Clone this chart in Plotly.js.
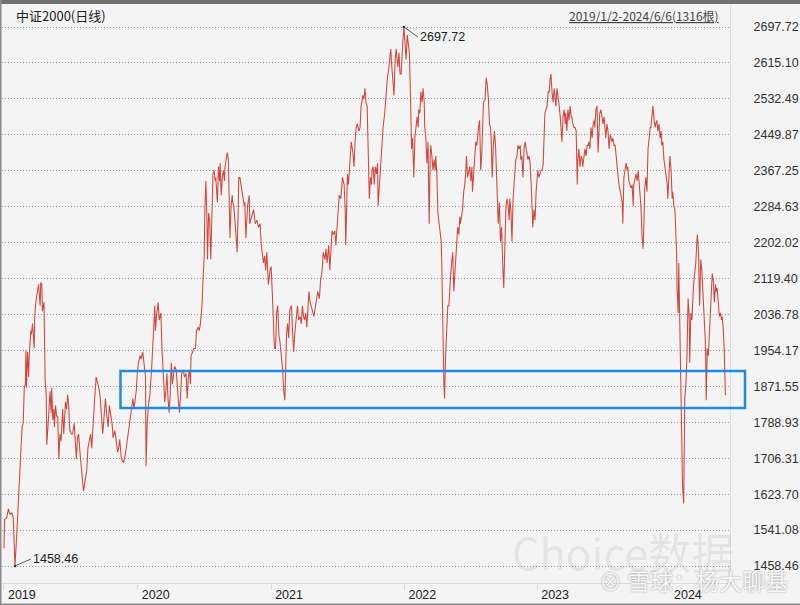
<!DOCTYPE html>
<html><head><meta charset="utf-8">
<script src="https://cdn.plot.ly/plotly-3.0.1.min.js"></script>
<style>html,body{margin:0;padding:0;background:#f4f4f4;}#chart{width:800px;height:605px;}</style>
</head><body><div id="chart"></div>
<script>
// trading-day index (0 = 2019/1/2, 1315 = 2024/6/6) and close values
const tradeDay = [0,1,5,8,11,14,17,18,20,23,26,28,30,33,35,37,39,40,41,43,45,46,49,50,52,55,56,58,61,63,66,67,69,70,73,75,77,78,81,84,86,87,89,91,92,94,96,98,100,102,104,107,109,112,114,116,118,120,123,125,128,130,132,134,136,139,141,143,145,148,151,153,156,158,160,163,165,168,170,173,175,177,180,182,185,187,190,192,194,197,199,202,204,207,209,211,214,218,221,225,228,232,235,237,239,241,243,245,248,250,253,255,258,259,261,264,266,269,271,273,275,276,278,281,283,286,288,290,293,295,297,299,301,303,305,307,309,311,314,316,318,320,322,324,327,329,332,334,336,338,340,341,344,346,349,351,354,356,358,361,363,365,366,368,370,371,373,375,377,379,381,383,385,386,389,391,393,394,396,398,400,402,403,405,407,409,411,412,414,416,417,419,421,423,425,427,428,
430,433,438,439,441,444,447,448,451,455,458,461,464,467,469,471,473,475,477,479,481,482,485,487,489,491,493,495,497,499,501,503,506,508,510,512,513,515,517,519,521,524,526,528,530,532,533,535,537,540,542,544,546,548,550,552,554,556,558,560,563,565,568,570,572,575,577,580,582,585,587,589,592,594,596,598,600,603,605,607,609,611,614,616,617,620,622,623,625,626,628,631,633,636,638,640,642,644,647,649,651,654,656,658,660,662,663,665,666,668,670,671,673,675,677,679,681,682,684,685,687,689,691,694,696,699,701,704,705,707,709,711,713,715,716,718,720,722,724,725,727,729,731,733,735,737,739,741,743,745,746,747,749,751,753,755,756,758,760,762,764,766,767,769,771,773,775,777,778,780,782,784,786,787,789,791,793,795,797,798,800,801,802,803,805,807,809,811,812,814,816,818,820,822,823,825,827,829,831,832,834,836,838,840,842,843,845,847,849,851,853,854,856,858,860,862,863,865,867,869,871,873,874,877,
879,881,883,885,887,888,890,892,894,896,897,899,901,903,905,907,908,910,911,913,915,917,919,921,922,924,926,928,930,932,933,935,937,939,941,942,944,946,948,950,952,953,955,957,959,961,963,964,966,968,970,972,973,975,977,979,981,983,984,986,988,990,992,994,995,997,999,1001,1003,1004,1006,1008,1010,1012,1014,1015,1017,1019,1021,1023,1024,1026,1028,1030,1032,1034,1035,1037,1039,1041,1043,1045,1046,1048,1050,1052,1054,1055,1057,1059,1061,1063,1065,1066,1068,1070,1072,1074,1076,1077,1079,1081,1083,1085,1086,1088,1090,1092,1094,1096,1097,1099,1101,1103,1105,1107,1108,1110,1112,1114,1116,1117,1119,1121,1123,1125,1127,1128,1130,1132,1134,1136,1137,1139,1141,1143,1145,1147,1148,1150,1152,1154,1156,1158,1159,1161,1163,1165,1167,1168,1170,1172,1174,1176,1178,1179,1181,1183,1185,1187,1188,1190,1192,1194,1196,1198,1199,1201,1203,1205,1207,1209,1210,1212,1214,1216,1218,1219,1221,1223,1225,1226,1227,1229,1230,1232,1233,1235,1236,1237,1239,1240,1241,1243,1245,1247,1249,1250,1252,1254,1255,1257,1259,1261,1263,1264,1266,1268,1270,1272,1274,1275,1277,1279,1280,1282,1284,1286,1288,1289,1291,1293,1295,1297,1298,1300,1302,1304,1306,1308,1309,1311,1313,1315];
const closeValue = [1499.5,1565.0,1569.2,1589.7,1577.4,1581.5,1569.2,1532.3,1458.46,1524.1,1597.9,1655.2,1671.6,1778.2,1786.4,1868.3,1876.5,1954.2,1868.3,1950.3,1892.9,1942.1,1999.4,1991.2,2015.8,1958.5,2032.2,2065.0,2089.6,2106.0,2056.8,2110.1,2106.0,2044.5,2065.0,1884.7,1851.9,1737.2,1794.5,1860.1,1810.9,1868.3,1794.5,1819.1,1778.2,1827.3,1802.7,1802.7,1704.4,1761.8,1745.4,1819.1,1761.8,1835.5,1819.1,1851.9,1827.3,1770.0,1761.8,1761.8,1786.4,1753.6,1704.4,1753.6,1761.8,1712.6,1679.8,1647.0,1630.6,1655.2,1679.8,1729.0,1753.6,1761.8,1729.0,1810.9,1835.5,1892.9,1884.7,1868.3,1851.9,1810.9,1761.8,1794.5,1843.7,1810.9,1778.2,1827.3,1810.9,1786.4,1753.6,1770.0,1753.6,1720.8,1729.0,1749.5,1704.4,1696.2,1712.6,1753.6,1778.2,1819.1,1843.7,1819.1,1835.5,1860.1,1901.1,1925.7,1942.1,1933.9,1950.3,1925.7,1892.9,1688.0,1786.4,1835.5,1851.9,1909.3,1974.8,2007.6,2056.8,1999.4,2032.2,2065.0,2024.0,2040.4,1958.5,1892.9,1835.5,1860.1,1901.1,1843.7,1810.9,1851.9,1925.7,1876.5,1892.9,1917.5,1909.3,1860.1,1835.5,1810.9,1868.3,1901.1,1909.3,1892.9,1901.1,1843.7,1892.9,1909.3,1876.5,1942.1,1950.3,1958.5,1958.5,1999.4,2007.6,1999.4,2015.8,2056.8,2122.4,2171.6,2269.9,2343.7,2253.5,2163.4,2269.9,2253.5,2163.4,2245.3,2360.1,2368.3,2343.7,2351.9,2294.5,2376.5,2343.7,2384.7,2310.9,2351.9,2368.3,2343.7,2376.5,2392.9,2409.2,2392.9,2294.5,2212.5,2286.3,2310.9,2294.5,2286.3,2253.5,2204.3,2179.8,2278.1,2351.9,
2351.9,2327.3,2286.3,2294.5,2212.5,2286.3,2310.9,2245.3,2261.7,2278.1,2245.3,2253.5,2237.1,2245.3,2196.1,2179.8,2155.2,2171.6,2138.8,2179.8,2130.6,2106.0,2138.8,2147.0,2089.6,2032.2,1958.5,1958.5,2040.4,2056.8,1991.2,1974.8,1933.9,1909.3,1860.1,1839.6,1884.7,1991.2,2015.8,1983.0,2048.6,2056.8,1999.4,1950.3,1991.2,2015.8,2032.2,2056.8,2024.0,2032.2,2015.8,2056.8,2032.2,2024.0,2040.4,2007.6,2048.6,2089.6,2065.0,2056.8,2040.4,2032.2,2056.8,2073.2,2089.6,2073.2,2114.2,2138.8,2179.8,2163.4,2187.9,2155.2,2196.1,2138.8,2204.3,2228.9,2220.7,2228.9,2196.1,2245.3,2269.9,2310.9,2302.7,2335.5,2351.9,2335.5,2278.1,2196.1,2319.1,2360.1,2335.5,2401.0,2433.8,2409.2,2376.5,2433.8,2466.6,2474.8,2458.4,2466.6,2515.8,2540.4,2532.2,2556.8,2524.0,2515.8,2442.0,2384.7,2302.7,2351.9,2335.5,2368.3,2376.5,2335.5,2376.5,2360.1,2384.7,2286.3,2327.3,2360.1,2384.7,2442.0,2466.6,2499.4,2540.4,2581.4,2597.7,2630.5,2646.9,2605.9,2581.4,2540.4,2622.3,2646.9,2630.5,2605.9,2638.7,2589.6,2589.6,2630.5,2663.3,2697.72,2646.9,2622.3,2679.7,2663.3,2638.7,2540.4,2417.4,2442.0,2392.9,2351.9,2442.0,2466.6,2491.2,2466.6,2507.6,2499.4,2548.6,2524.0,2556.8,2524.0,2466.6,2442.0,2384.7,2433.8,2245.3,2401.0,2425.6,2401.0,2368.3,2392.9,2368.3,2401.0,2360.1,2269.9,2245.3,2228.9,2204.3,2155.2,2056.8,1942.1,1876.5,1843.7,1942.1,1991.2,2056.8,2056.8,2089.6,2122.4,2155.2,2179.8,2089.6,2138.8,2147.0,2187.9,2237.1,2220.7,2261.7,2245.3,2261.7,2278.1,2319.1,2335.5,2368.3,2401.0,2351.9,2368.3,2376.5,2343.7,2376.5,2319.1,2360.1,2401.0,2433.8,2425.6,2450.2,2466.6,2483.0,2368.3,2409.2,2483.0,2524.0,2532.2,
2581.4,2565.0,2532.2,2474.8,2466.6,2442.0,2351.9,2425.6,2458.4,2425.6,2384.7,2286.3,2245.3,2294.5,2204.3,2237.1,2179.8,2122.4,2097.8,2204.3,2286.3,2302.7,2286.3,2253.5,2302.7,2278.1,2204.3,2302.7,2351.9,2384.7,2392.9,2401.0,2425.6,2417.4,2425.6,2392.9,2401.0,2351.9,2417.4,2433.8,2417.4,2409.2,2392.9,2401.0,2384.7,2335.5,2286.3,2237.1,2278.1,2253.5,2319.1,2351.9,2368.3,2351.9,2360.1,2368.3,2368.3,2384.7,2425.6,2499.4,2507.6,2515.8,2548.6,2548.6,2573.2,2589.6,2548.6,2524.0,2556.8,2540.4,2515.8,2556.8,2540.4,2515.8,2491.2,2466.6,2433.8,2491.2,2507.6,2474.8,2499.4,2458.4,2507.6,2483.0,2515.8,2491.2,2491.2,2474.8,2466.6,2466.6,2458.4,2335.5,2392.9,2417.4,2376.5,2401.0,2392.9,2376.5,2401.0,2417.4,2401.0,2425.6,2425.6,2433.8,2417.4,2466.6,2442.0,2474.8,2483.0,2466.6,2507.6,2515.8,2409.2,2466.6,2499.4,2507.6,2491.2,2474.8,2491.2,2466.6,2442.0,2474.8,2458.4,2417.4,2450.2,2442.0,2433.8,2442.0,2425.6,2425.6,2392.9,2384.7,2360.1,2335.5,2319.1,2310.9,2294.5,2245.3,2351.9,2368.3,2384.7,2368.3,2376.5,2343.7,2335.5,2327.3,2335.5,2286.3,2335.5,2351.9,2360.1,2343.7,2368.3,2335.5,2319.1,2286.3,2220.7,2187.9,2269.9,2327.3,2351.9,2319.1,2417.4,2450.2,2466.6,2466.6,2499.4,2515.8,2483.0,2466.6,2474.8,2483.0,2458.4,2474.8,2442.0,2458.4,2425.6,2433.8,2392.9,2376.5,2360.1,2335.5,2302.7,2351.9,2401.0,2368.3,2302.7,2319.1,2286.3,2278.1,2212.5,2179.8,2097.8,2040.4,2155.2,2007.6,1909.3,1810.9,1688.0,1638.8,1602.0,1729.0,1843.7,1876.5,1942.1,2073.2,2032.2,1925.7,2040.4,2024.0,2065.0,2106.0,2130.6,2155.2,2204.3,2220.7,2179.8,2056.8,2163.4,2138.8,2089.6,2056.8,2024.0,1958.5,1839.6,1958.5,1942.1,1999.4,2056.8,2089.6,2130.6,2114.2,2065.0,2106.0,2089.6,2097.8,2056.8,2032.2,2040.4,2024.0,2032.2,2007.6,1950.3,1851.9];
const yearTickDays = [0, 244, 487, 730, 972, 1214];
const yearLabels = ['2019', '2020', '2021', '2022', '2023', '2024'];
const priceTicks = [2697.72,2615.10,2532.49,2449.87,2367.25,2284.63,2202.02,2119.40,2036.78,1954.17,1871.55,1788.93,1706.31,1623.70,1541.08,1458.46];
const priceTickText = priceTicks.map(v => v.toFixed(2));
const highDay = 729, highValue = 2697.72;
const lowDay = 20, lowValue = 1458.46;

const FONT = 'Liberation Sans, Arial, "Noto Sans CJK SC", sans-serif';
const CJK = '"Noto Sans CJK SC", "Liberation Sans", sans-serif';

// pixel -> paper helpers for decorations (plot area: x 2..730, y 5..583)
const PL = 2, PW = 728, PT = 5, PB = 583, PH = PB - PT;
const px = v => (v - PL) / PW;
const py = v => (PB - v) / PH;

const trace = {
  x: tradeDay, y: closeValue, type: 'scatter', mode: 'lines',
  line: { color: '#d3443a', width: 1.05 }, hoverinfo: 'skip'
};

const layout = {
  width: 800, height: 605,
  margin: { l: PL, r: 800 - PL - PW, t: PT, b: 605 - PB },
  paper_bgcolor: '#f4f4f4', plot_bgcolor: '#f4f4f4',
  showlegend: false,
  font: { family: FONT, color: '#333', size: 12.5 },
  xaxis: {
    range: [-3.6, 1323.4], tickmode: 'array', tickvals: yearTickDays, ticktext: yearLabels,
    showgrid: false, zeroline: false, showline: true, linecolor: '#dcdcdc', linewidth: 1,
    ticks: 'outside', ticklen: 6, tickcolor: '#dcdcdc', ticklabelshift: 3,
    ticklabelposition: 'outside right', tickfont: { size: 12.5, color: '#222', family: FONT },
    fixedrange: true
  },
  yaxis: {
    side: 'right', range: [1419.4, 2748.3], tickmode: 'array', tickvals: priceTicks, ticktext: priceTickText,
    showgrid: true, gridcolor: '#9a9a9a', griddash: '1px,2px', gridwidth: 1,
    zeroline: false, showline: true, linecolor: '#dedede', linewidth: 1,
    ticks: '', ticklabelstandoff: 20, tickfont: { size: 12.5, color: '#333', family: FONT },
    fixedrange: true
  },
  shapes: [
    { type: 'rect', xref: 'paper', yref: 'paper', x0: px(-5), x1: px(805), y0: py(4), y1: py(-2), fillcolor: '#707070', line: { width: 0 } },
    { type: 'rect', xref: 'paper', yref: 'paper', x0: px(-2), x1: px(1.5), y0: py(610), y1: py(0), fillcolor: '#8a8a8a', line: { width: 0 } },
    { type: 'rect', xref: 'paper', yref: 'paper', x0: px(-2), x1: px(805), y0: py(610), y1: py(603.5), fillcolor: '#8a8a8a', line: { width: 0 } },
    { type: 'rect', xref: 'paper', yref: 'paper', x0: px(120.5), x1: px(745), y0: py(408), y1: py(371), line: { color: '#1e8be0', width: 2.5 } }
  ],
  annotations: [
    { xref: 'paper', yref: 'paper', x: px(14), y: py(15), xanchor: 'left', yanchor: 'middle', showarrow: false,
      text: '中证2000(日线)', font: { family: CJK, size: 13, color: '#222' } },
    { xref: 'paper', yref: 'paper', x: px(721), y: py(15), xanchor: 'right', yanchor: 'middle', showarrow: false,
      text: '<u>2019/1/2-2024/6/6(1316根)</u>', font: { family: CJK, size: 12, color: '#444' } },
    { x: highDay, y: highValue, xref: 'x', yref: 'y', text: highValue.toFixed(2), showarrow: true,
      ax: 14, ay: 10, xanchor: 'left', yanchor: 'middle', arrowhead: 7, arrowsize: 0.7, arrowwidth: 0.8, arrowcolor: '#333',
      font: { size: 12.5, color: '#222' } },
    { x: lowDay, y: lowValue, xref: 'x', yref: 'y', text: lowValue.toFixed(2), showarrow: true,
      ax: 16, ay: -7, xanchor: 'left', yanchor: 'middle', arrowhead: 7, arrowsize: 0.7, arrowwidth: 0.8, arrowcolor: '#333',
      font: { size: 12.5, color: '#222' } },
    { xref: 'paper', yref: 'paper', x: px(623), y: py(551), xanchor: 'center', yanchor: 'middle', showarrow: false,
      text: 'Choice数据', font: { family: CJK, size: 43, color: 'rgba(0,0,0,0.085)' } },
    { xref: 'paper', yref: 'paper', x: px(790), y: py(580), xanchor: 'right', yanchor: 'middle', showarrow: false,
      text: '⊗ 雪球：杨大聊基', font: { family: CJK, size: 23, color: 'rgba(255,255,255,0.92)', shadow: '0px 0px 2px rgba(0,0,0,0.45)' } }
  ]
};

Plotly.newPlot('chart', [trace], layout, { staticPlot: true, displayModeBar: false });
</script></body></html>
